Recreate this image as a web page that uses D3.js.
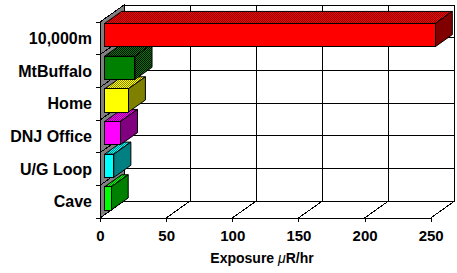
<!DOCTYPE html>
<html>
<head>
<meta charset="utf-8">
<script src="https://cdn.jsdelivr.net/npm/d3@7"></script>
<style>
  body { margin: 0; background: #fff; }
  svg { display: block; }
  text { font-family: "Liberation Sans", Arial, sans-serif; font-weight: bold; fill: #000; }
</style>
</head>
<body>
<svg id="chart" width="457" height="273"></svg>
<script>
// Data (bottom to top).
const categories = ["Cave", "U/G Loop", "DNJ Office", "Home", "MtBuffalo", "10,000m"];
const values = [5, 7, 12, 18, 23, 250];
const xTicks = [0, 50, 100, 150, 200, 250];

// Face colours for each bar: front, side, dither for the top.
const frontColors = ["#00ff00", "#00ffff", "#ff00ff", "#ffff00", "#008000", "#ff0000"];
const sideColors = ["#008000", "#008080", "#800080", "#808000", "#004000", "#800000"];
const dotColors = ["#008000", "#008080", "#800080", "#808000", "#000000", "#800000"];

let svg = d3.select("#chart");

// Oblique depth of the whole plot and of the bars inside it.
const DX = 24, DY = -17;
const f0 = 0.19, f1 = 0.90;

let x = d3.scaleLinear().domain([0, 250]).range([100, 430.7]);
let y = d3.scaleBand().domain(categories.slice().reverse()).range([22, 218]);

// Dither patterns, one 2x2 checker per bar top (and the dark green side).
let defs = svg.append("defs");
function checker(id, base, dot) {
    let p = defs.append("pattern")
        .attr("id", id)
        .attr("patternUnits", "userSpaceOnUse")
        .attr("width", 2).attr("height", 2);
    p.append("rect").attr("width", 2).attr("height", 2).attr("fill", base);
    p.append("rect").attr("width", 1).attr("height", 1).attr("fill", dot);
    p.append("rect").attr("x", 1).attr("y", 1).attr("width", 1).attr("height", 1).attr("fill", dot);
}
categories.forEach((c, i) => checker("top" + i, frontColors[i], dotColors[i]));
checker("sideGreen", "#008000", "#000000");

let x0 = x(0), x1 = x(250);
let yTop = 22, yBot = 218;
let boundaries = y.domain().map(d => y(d)).concat([yBot]);

let walls = svg.append("g").attr("shape-rendering", "crispEdges");

// Back wall.
walls.append("rect")
    .attr("x", x0 + DX).attr("y", yTop + DY)
    .attr("width", x1 - x0).attr("height", yBot - yTop)
    .attr("fill", "#fff").attr("stroke", "#000");

// Left side wall (grey).
walls.append("path")
    .attr("d", d3.line()([[x0, yTop], [x0 + DX, yTop + DY], [x0 + DX, yBot + DY], [x0, yBot]]) + "Z")
    .attr("fill", "#808080").attr("stroke", "#000");

// Grid on back wall and wall lines at category boundaries.
boundaries.forEach(function (b) {
    walls.append("line")
        .attr("x1", x0 + DX).attr("x2", x1 + DX)
        .attr("y1", b + DY).attr("y2", b + DY)
        .attr("stroke", "#000");
    walls.append("line")
        .attr("x1", x0).attr("x2", x0 + DX)
        .attr("y1", b).attr("y2", b + DY)
        .attr("stroke", "#000");
    walls.append("line")
        .attr("x1", x0 - 4).attr("x2", x0)
        .attr("y1", b).attr("y2", b)
        .attr("stroke", "#000");
});

xTicks.forEach(function (t) {
    walls.append("line")
        .attr("x1", x(t) + DX).attr("x2", x(t) + DX)
        .attr("y1", yTop + DY).attr("y2", yBot + DY)
        .attr("stroke", "#000");
    // Floor lines running back from the front ticks.
    walls.append("line")
        .attr("x1", x(t)).attr("x2", x(t) + DX)
        .attr("y1", yBot).attr("y2", yBot + DY)
        .attr("stroke", "#000");
});

// Bars, drawn bottom to top so upper bars cover the tops below them.
let bh = y.bandwidth() * 0.71;
let bdx = (f1 - f0) * DX, bdy = (f1 - f0) * DY;
let bars = svg.append("g");

categories.forEach(function (c, i) {
    let cy = y(c) + y.bandwidth() / 2 + f0 * DY;
    let l = x(0) + f0 * DX, r = x(values[i]) + f0 * DX;
    let t = cy - bh / 2, b = cy + bh / 2;
    let g = bars.append("g").attr("class", "bar");

    g.append("path")
        .attr("d", d3.line()([[l, t], [r, t], [r + bdx, t + bdy], [l + bdx, t + bdy]]) + "Z")
        .attr("fill", "url(#top" + i + ")").attr("stroke", "#000");
    g.append("path")
        .attr("d", d3.line()([[r, t], [r + bdx, t + bdy], [r + bdx, b + bdy], [r, b]]) + "Z")
        .attr("fill", i === 4 ? "url(#sideGreen)" : sideColors[i]).attr("stroke", "#000");
    g.append("rect")
        .attr("x", l).attr("y", t)
        .attr("width", r - l).attr("height", b - t)
        .attr("fill", frontColors[i]).attr("stroke", "#000")
        .attr("shape-rendering", "crispEdges");
});

// Front x axis.
let xAxis = svg.append("g")
    .attr("transform", "translate(0," + yBot + ")")
    .call(d3.axisBottom(x).tickValues(xTicks).tickSize(4).tickSizeOuter(0).tickPadding(8));
xAxis.selectAll("path, line").attr("stroke", "#000").attr("shape-rendering", "crispEdges");
xAxis.selectAll("text").style("font-size", "15px").attr("font-family", null);

// Category labels.
let yAxis = svg.append("g")
    .attr("transform", "translate(" + x0 + ",0)")
    .call(d3.axisLeft(y).tickSize(0).tickPadding(8));
yAxis.select(".domain").attr("stroke", "#000").attr("shape-rendering", "crispEdges");
yAxis.selectAll("text").style("font-size", "16px").attr("dy", "0.36em");

// Axis title.
let title = svg.append("text")
    .attr("x", 262).attr("y", 263)
    .attr("text-anchor", "middle")
    .style("font-size", "14px");
title.append("tspan").text("Exposure ");
title.append("tspan").style("font-style", "italic").style("font-weight", "normal").text("μ");
title.append("tspan").text("R/hr");
</script>
</body>
</html>
